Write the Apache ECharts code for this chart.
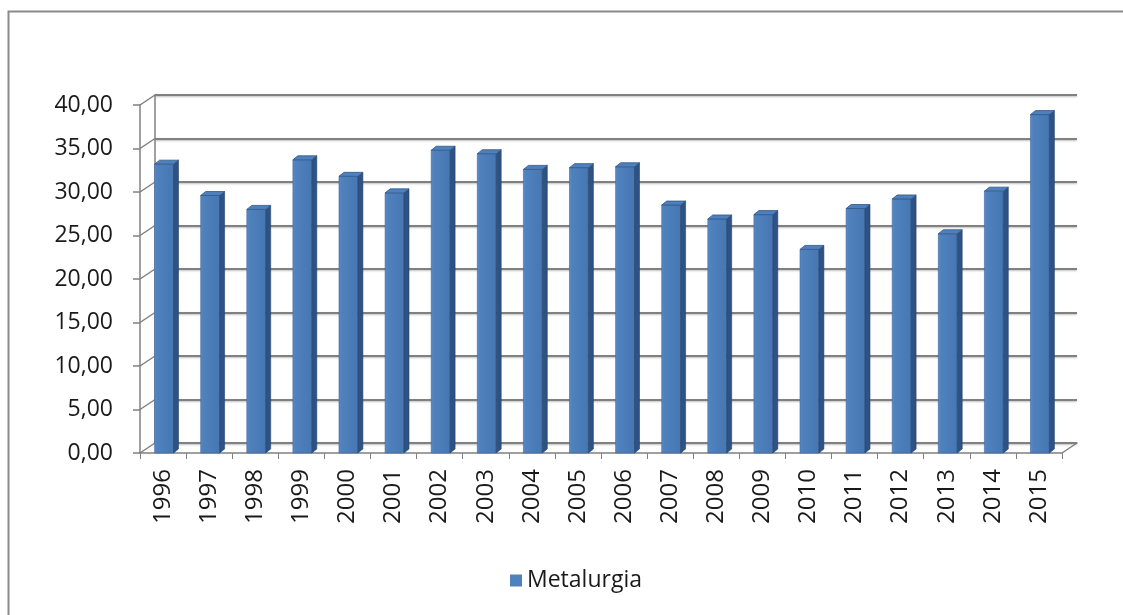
<!DOCTYPE html>
<html>
<head>
<meta charset="utf-8">
<title>Metalurgia</title>
<script src="https://cdn.jsdelivr.net/npm/echarts@6/dist/echarts.min.js"></script>
<style>
  html, body { margin: 0; padding: 0; background: #fff; }
  #chart { width: 1123px; height: 615px; }
</style>
</head>
<body>
<div id="chart"></div>
<script>
// 年份（类目）
const years = ['1996', '1997', '1998', '1999', '2000', '2001', '2002', '2003', '2004', '2005',
  '2006', '2007', '2008', '2009', '2010', '2011', '2012', '2013', '2014', '2015']
// Metalurgia 系列数值
const metalurgia = [33.2, 29.6, 28.0, 33.7, 31.8, 29.9, 34.8, 34.4, 32.6, 32.8,
  32.9, 28.5, 26.9, 27.4, 23.4, 28.1, 29.2, 25.2, 30.1, 38.9]
// 纵轴刻度
const yTicks = [0, 5, 10, 15, 20, 25, 30, 35, 40]

// 3D 深度偏移（后墙相对前平面）
const DX = 15
const DY = -10
// 柱子侧面/顶面的偏移
const SX = 5
const SY = -4

const fontFamily = '"Open Sans", "Noto Sans", sans-serif'
const gridColor = '#808080'

const chart = echarts.init(document.getElementById('chart'), null, { renderer: 'canvas' })

// 画 3D 柱子
function renderBar(params, api) {
  const top = api.coord([api.value(0), api.value(1)])
  const base = api.coord([api.value(0), 0])
  const bw = api.size([1, 0])[0] * 0.41
  const xl = top[0] - bw / 2 + 1
  const xr = xl + bw
  return {
    type: 'group',
    children: [{
      type: 'rect',
      shape: { x: xl, y: top[1], width: bw, height: base[1] - top[1] },
      style: {
        fill: new echarts.graphic.LinearGradient(0, 0, 1, 0, [
          { offset: 0, color: '#5a8bc8' },
          { offset: 0.15, color: '#4f81bd' },
          { offset: 1, color: '#4677b3' }
        ]),
        stroke: '#3d679c',
        lineWidth: 0.6
      }
    }, {
      type: 'polygon',
      shape: { points: [[xr, top[1]], [xr + SX, top[1] + SY], [xr + SX, base[1] + SY], [xr, base[1]]] },
      style: { fill: '#2d5283', stroke: '#25456f', lineWidth: 0.6 }
    }, {
      type: 'polygon',
      shape: { points: [[xl, top[1]], [xl + SX, top[1] + SY], [xr + SX, top[1] + SY], [xr, top[1]]] },
      style: { fill: '#4e80bd', stroke: '#2f5586', lineWidth: 0.8 }
    }]
  }
}

// 画左侧墙的斜线和地板右侧斜线
function renderFrame(params, api) {
  const cs = params.coordSys
  const v = api.value(0)
  const p = api.coord([0, v])
  const children = [{
    type: 'line',
    shape: { x1: cs.x, y1: p[1], x2: cs.x + DX, y2: p[1] + DY },
    style: { stroke: gridColor, lineWidth: 1.5 }
  }]
  if (v === 0) {
    children.push({
      type: 'line',
      shape: { x1: cs.x + cs.width, y1: p[1], x2: cs.x + cs.width + DX, y2: p[1] + DY },
      style: { stroke: gridColor, lineWidth: 1.5 }
    })
  }
  return { type: 'group', children }
}

chart.setOption({
  animation: false,
  textStyle: { fontFamily },
  graphic: [{
    type: 'rect',
    shape: { x: 8.5, y: 11.5, width: 1300, height: 800 },
    style: { fill: 'none', stroke: '#8a8a8a', lineWidth: 2 },
    silent: true
  }],
  grid: [
    // 前平面
    { left: 140, right: 61, top: 105, bottom: 162 },
    // 后墙
    { left: 140 + DX, right: 61 - DX, top: 105 + DY, bottom: 162 - DY }
  ],
  xAxis: [{
    type: 'category',
    gridIndex: 0,
    data: years,
    axisLine: { lineStyle: { color: gridColor, width: 1.5 } },
    axisTick: { show: true, length: 6, lineStyle: { color: gridColor } },
    axisLabel: {
      rotate: 90,
      margin: 16,
      fontSize: 24,
      color: '#1a1a1a',
      interval: 0
    }
  }, {
    type: 'category',
    gridIndex: 1,
    data: years,
    axisLine: { lineStyle: { color: gridColor, width: 1.5 } },
    axisTick: { show: false },
    axisLabel: { show: false }
  }],
  yAxis: [{
    type: 'value',
    gridIndex: 0,
    min: yTicks[0],
    max: yTicks[yTicks.length - 1],
    interval: yTicks[1] - yTicks[0],
    axisLine: { show: true, lineStyle: { color: gridColor, width: 1.5 } },
    axisTick: { show: true, length: 7, lineStyle: { color: gridColor, width: 1.5 } },
    splitLine: { show: false },
    axisLabel: {
      margin: 27,
      fontSize: 23,
      color: '#1a1a1a',
      formatter: v => v.toFixed(2).replace('.', ',')
    }
  }, {
    type: 'value',
    gridIndex: 1,
    min: yTicks[0],
    max: yTicks[yTicks.length - 1],
    interval: yTicks[1] - yTicks[0],
    axisLine: { show: true, lineStyle: { color: gridColor, width: 1.5 } },
    axisTick: { show: false },
    axisLabel: { show: false },
    splitLine: {
      show: true,
      lineStyle: {
        color: gridColor,
        width: 2,
        shadowColor: 'rgba(0,0,0,0.25)',
        shadowBlur: 2,
        shadowOffsetY: 1
      }
    }
  }],
  legend: {
    data: [{ name: 'Metalurgia', icon: 'rect' }],
    left: 505,
    top: 564,
    itemWidth: 12,
    itemHeight: 12,
    itemGap: 8,
    textStyle: { fontSize: 23, color: '#1a1a1a', fontFamily }
  },
  series: [{
    type: 'custom',
    name: 'frame',
    xAxisIndex: 0,
    yAxisIndex: 0,
    silent: true,
    z: 1,
    data: yTicks.map(v => [v]),
    encode: { y: 0 },
    renderItem: renderFrame
  }, {
    type: 'custom',
    name: 'Metalurgia',
    xAxisIndex: 0,
    yAxisIndex: 0,
    z: 5,
    itemStyle: { color: '#4f81bd' },
    data: metalurgia.map((v, i) => [i, v]),
    encode: { x: 0, y: 1 },
    renderItem: renderBar
  }]
})
</script>
</body>
</html>
